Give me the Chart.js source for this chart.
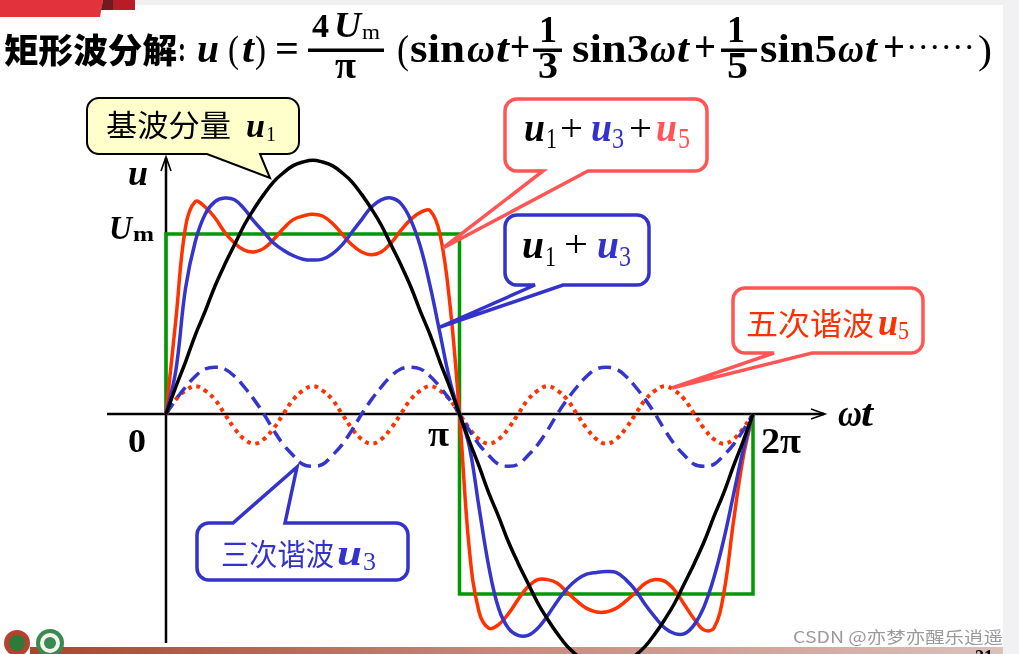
<!DOCTYPE html>
<html><head><meta charset="utf-8">
<script src="https://cdn.jsdelivr.net/npm/chart.js@4/dist/chart.umd.min.js"></script>
<style>
html,body{margin:0;padding:0;background:#fff;overflow:hidden}
#wrap{position:relative;width:1019px;height:654px;background:#fff}
#wrap canvas,#wrap svg{position:absolute;left:0;top:0}
</style></head><body>
<div id="wrap">
<svg id="back" width="1019" height="654">
  <rect x="0" y="0" width="1019" height="5" fill="#f0f0f0"/>
  <polygon points="0,0 103,0 100,17 0,17" fill="#e2323c"/>
  <polygon points="103,0 113,0 113,10 101,10" fill="#6e1c22"/>
  <rect x="113" y="0" width="22" height="10" fill="#b81c26"/>
  <rect x="1003" y="0" width="16" height="654" fill="#f1f1f3"/>
  <defs><linearGradient id="bar" x1="0" x2="1" y1="0" y2="0">
    <stop offset="0" stop-color="#a8462e"/><stop offset="0.5" stop-color="#c98a7c"/><stop offset="1" stop-color="#dcc0ba"/></linearGradient></defs>
  <rect x="30" y="647" width="973" height="7" fill="url(#bar)"/>
  <circle cx="17" cy="643" r="13" fill="#b8402e"/><circle cx="17" cy="643" r="8" fill="#2f7a3a"/>
  <circle cx="50" cy="643" r="14" fill="#3a8a50"/><circle cx="50" cy="643" r="10" fill="#f4f4ee"/><circle cx="50" cy="643" r="6" fill="#3a8a50"/>
</svg>
<canvas id="c" width="1019" height="654"></canvas>
<svg id="deco" width="1019" height="654"></svg>
</div>
<script>
// ---- data (angle of ωt in degrees, values in units of Um) ----
const angles = [0,6,12,18,24,30,36,42,48,54,60,66,72,78,84,90,96,102,108,114,120,126,132,138,144,150,156,162,168,174,180,
  186,192,198,204,210,216,222,228,234,240,246,252,258,264,270,276,282,288,294,300,306,312,318,324,330,336,342,348,354,360];
const u1 = [0,0.15,0.29,0.44,0.57,0.71,0.83,0.94,1.05,1.14,1.22,1.29,1.34,1.38,1.40,1.41,1.40,1.38,1.34,1.29,1.22,1.14,1.05,0.94,0.83,0.71,0.57,0.44,0.29,0.15,0,
  -0.15,-0.29,-0.44,-0.57,-0.71,-0.83,-0.94,-1.05,-1.14,-1.22,-1.29,-1.34,-1.38,-1.40,-1.41,-1.40,-1.38,-1.34,-1.29,-1.22,-1.14,-1.05,-0.94,-0.83,-0.71,-0.57,-0.44,-0.29,-0.15,0];
const u3 = [0,0.08,0.15,0.21,0.25,0.26,0.25,0.21,0.15,0.08,0,
  -0.09,-0.17,-0.23,-0.28,-0.29,-0.28,-0.23,-0.17,-0.09,0,
  0.08,0.15,0.21,0.25,0.26,0.25,0.21,0.15,0.08,0,
  -0.09,-0.17,-0.23,-0.28,-0.29,-0.28,-0.23,-0.17,-0.09,0,
  0.08,0.15,0.21,0.25,0.26,0.25,0.21,0.15,0.08,0,
  -0.09,-0.17,-0.23,-0.28,-0.29,-0.28,-0.23,-0.17,-0.09,0];
const u5 = [0,0.08,0.13,0.155,0.13,0.08,0,-0.08,-0.14,-0.165,-0.14,-0.08,
  0,0.08,0.13,0.155,0.13,0.08,0,-0.08,-0.14,-0.165,-0.14,-0.08,
  0,0.08,0.13,0.155,0.13,0.08,0,-0.08,-0.14,-0.165,-0.14,-0.08,
  0,0.08,0.13,0.155,0.13,0.08,0,-0.08,-0.14,-0.165,-0.14,-0.08,
  0,0.08,0.13,0.155,0.13,0.08,0,-0.08,-0.14,-0.165,-0.14,-0.08,0];
const sum13 = [0,0.24,0.70,0.96,1.11,1.18,1.20,1.19,1.14,1.07,1.01,0.95,0.91,0.88,0.86,0.855,0.86,0.89,0.94,1.01,1.08,1.15,1.19,1.20,1.17,1.08,0.93,0.71,0.45,0.19,0,
  -0.18,-0.52,-0.85,-1.08,-1.19,-1.23,-1.23,-1.19,-1.12,-1.04,-0.97,-0.92,-0.89,-0.88,-0.875,-0.88,-0.92,-0.98,-1.06,-1.13,-1.19,-1.22,-1.22,-1.17,-1.07,-0.91,-0.70,-0.45,-0.20,0];
const sum135 = [0,0.52,1.04,1.18,1.15,1.09,1.01,0.95,0.91,0.90,0.92,0.97,1.03,1.08,1.10,1.11,1.10,1.06,1.00,0.94,0.90,0.885,0.90,0.95,1.02,1.08,1.12,1.13,1.00,0.62,0,
  -0.75,-1.10,-1.19,-1.17,-1.11,-1.03,-0.96,-0.92,-0.92,-0.94,-0.99,-1.04,-1.08,-1.10,-1.10,-1.08,-1.04,-0.99,-0.94,-0.92,-0.93,-0.98,-1.06,-1.14,-1.20,-1.19,-1.00,-0.60,-0.24,0];
const squareX = [0,0,180,180,360,360];
const squareY = [0,1,1,-1,-1,0];

const pts = vals => angles.map((a,i)=>({x:a,y:vals[i]}));
const sq = squareX.map((a,i)=>({x:a,y:squareY[i]}));

const BLUE='#3535cc', RED='#ff3300', GREEN='#009900';
const axesPlugin = {
  id:'axes',
  beforeDatasetsDraw(chart){
    const {ctx, scales:{x,y}} = chart;
    const x0=x.getPixelForValue(0), x2=x.getPixelForValue(360), y0=y.getPixelForValue(0);
    ctx.save();
    ctx.strokeStyle='#000'; ctx.lineWidth=2.5;
    ctx.beginPath(); ctx.moveTo(x0-59,y0); ctx.lineTo(x2+71,y0); ctx.stroke();
    ctx.beginPath(); ctx.moveTo(x0,y0+229); ctx.lineTo(x0,y0-256); ctx.stroke();
    ctx.lineWidth=1.6;
    ctx.beginPath(); ctx.moveTo(x2+58,y0-5); ctx.lineTo(x2+72,y0); ctx.lineTo(x2+58,y0+5); ctx.stroke();
    ctx.beginPath(); ctx.moveTo(x0-5,y0-243); ctx.lineTo(x0,y0-257); ctx.lineTo(x0+5,y0-243); ctx.stroke();
    ctx.restore();
  }
};
const k = 587/360;
const xmin = -166/k, xmax = xmin + 1019/k;
const ymax = 414/180, ymin = ymax - 654/180;
new Chart(document.getElementById('c'), {
  type:'line',
  data:{datasets:[
    {label:'u1', data:pts(u1), borderColor:'#000', borderWidth:3.5, tension:0.4},
    {label:'u1+u3', data:pts(sum13), borderColor:BLUE, borderWidth:3.5, tension:0.4},
    {label:'u1+u3+u5', data:pts(sum135), borderColor:RED, borderWidth:3.5, tension:0.4},
    {label:'square', data:sq, borderColor:GREEN, borderWidth:3.5, tension:0},
    {label:'u3', data:pts(u3), borderColor:BLUE, borderWidth:3.5, borderDash:[13,7], tension:0.4},
    {label:'u5', data:pts(u5), borderColor:RED, borderWidth:4, borderDash:[4,4.5], tension:0.4}
  ]},
  options:{
    responsive:false, animation:false, devicePixelRatio:1,
    layout:{padding:0},
    plugins:{legend:{display:false}, tooltip:{enabled:false}, title:{display:false}},
    elements:{point:{radius:0}},
    scales:{
      x:{type:'linear', display:false, min:xmin, max:xmax},
      y:{type:'linear', display:false, min:ymin, max:ymax}
    }
  },
  plugins:[axesPlugin]
});

// ---- decorations: bubbles & text ----
function bubble(x,y,w,h,r,b1,b2,tx,ty,top){
  if(top){
    return `M${x+r},${y} H${b1} L${tx},${ty} L${b2},${y} H${x+w-r} A${r},${r} 0 0 1 ${x+w},${y+r} V${y+h-r} A${r},${r} 0 0 1 ${x+w-r},${y+h} H${x+r} A${r},${r} 0 0 1 ${x},${y+h-r} V${y+r} A${r},${r} 0 0 1 ${x+r},${y} Z`;
  }
  return `M${x+r},${y} H${x+w-r} A${r},${r} 0 0 1 ${x+w},${y+r} V${y+h-r} A${r},${r} 0 0 1 ${x+w-r},${y+h} H${b2} L${tx},${ty} L${b1},${y+h} H${x+r} A${r},${r} 0 0 1 ${x},${y+h-r} V${y+r} A${r},${r} 0 0 1 ${x+r},${y} Z`;
}
const SERIF="'Liberation Serif','Times New Roman',serif";
const CJK="'Noto Sans CJK SC','Noto Sans CJK JP',sans-serif";
function T(txt,x,y,o){
  o=o||{};
  const fam=o.cjk?CJK:SERIF;
  const len=o.w?` textLength="${o.w}" lengthAdjust="spacingAndGlyphs"`:'';
  return `<text x="${x}" y="${y}" font-family="${fam}" font-size="${o.s||36}" font-weight="${o.b===false?'normal':(o.wt||'bold')}" font-style="${o.i?'italic':'normal'}" fill="${o.c||'#000'}"${len}>${txt}</text>`;
}
const RB='#ff5555', BB='#3333cc';
let s='';
// bubbles
s+=`<path d="${bubble(87,98,212,56,12,207,260,270,178)}" fill="#ffffcc" stroke="#000" stroke-width="2"/>`;
s+=`<path d="${bubble(505,99,202,72,12,543,588,443,248)}" fill="#fff" stroke="${RB}" stroke-width="3.5"/>`;
s+=`<path d="${bubble(505,215,144,70,12,535,563,440,327)}" fill="#fff" stroke="${BB}" stroke-width="3.5"/>`;
s+=`<path d="${bubble(733,288,190,65,12,774,812,672,388)}" fill="#fff" stroke="${RB}" stroke-width="3.5"/>`;
s+=`<path d="${bubble(197,523,211,57,12,233,285,297,467,true)}" fill="#fff" stroke="${BB}" stroke-width="3.5"/>`;
// bubble texts
s+=T('基波分量',106,136,{cjk:1,s:30,b:false,w:125});
s+=T('u',246,137,{i:1,s:34,w:19});
s+=T('1',266,141,{b:false,s:22,w:10});

s+=T('u',524,141,{i:1,s:40,w:21});
s+=T('1',546,148,{b:false,s:29,w:11});
s+=T('+',560,141,{b:false,s:38,w:23});
s+=T('u',591,141,{i:1,s:40,w:21,c:BB});
s+=T('3',612,148,{b:false,s:29,w:12,c:BB});
s+=T('+',629,141,{b:false,s:38,w:23});
s+=T('u',656,141,{i:1,s:40,w:21,c:RB});
s+=T('5',678,148,{b:false,s:29,w:12,c:RB});

s+=T('u',522,258,{i:1,s:40,w:22});
s+=T('1',545,266,{b:false,s:29,w:11});
s+=T('+',564,257,{b:false,s:38,w:24});
s+=T('u',597,258,{i:1,s:40,w:22,c:BB});
s+=T('3',619,266,{b:false,s:29,w:12,c:BB});

s+=T('五次谐波',746,335,{cjk:1,s:31,b:false,w:128,c:'#ff3000'});
s+=T('u',878,335,{i:1,s:38,w:20,c:'#ff3000'});
s+=T('5',898,339,{b:false,s:26,w:11,c:'#ff3000'});

s+=T('三次谐波',221,565,{cjk:1,s:30,b:false,w:113,c:BB});
s+=T('u',337,565,{i:1,s:36,w:25,c:BB});
s+=T('3',363,570,{b:false,s:25,w:13,c:BB});

// axis labels
s+=T('u',128,185,{i:1,s:36,w:20});
s+=T('U',109,239,{i:1,s:34,w:23});
s+=T('m',133,241,{s:22,w:21});
s+=T('0',128,452,{s:34,w:18});
s+=T('π',428,446,{s:36,w:21});
s+=T('2π',761,453,{s:36,w:40});
s+=T('ω',838,426,{i:1,s:38,w:24});
s+=T('t',861,426,{i:1,s:38,w:12});

// title formula
s+=T('矩形波分解',4,63,{cjk:1,s:34,wt:900,w:173});
s+=T(':',178,61,{s:36,w:8});
s+=T('u',197,62,{i:1,s:40,w:22});
s+=T('(',228,62,{b:false,s:38,w:11});
s+=T('t',242,62,{i:1,s:40,w:12});
s+=T(')',255,62,{b:false,s:38,w:11});
s+=T('=',275,62,{s:40,w:24});
s+=T('4',312,37,{s:34,w:17});
s+=T('U',334,37,{i:1,s:36,w:27});
s+=T('m',362,39,{b:false,s:22,w:18});
s+=`<rect x="308" y="48.5" width="76" height="3.5" fill="#000"/>`;
s+=T('π',335,78,{s:38,w:21});
s+=T('(',397,63,{b:false,s:40,w:12});
s+=T('sin',410,62,{s:40,w:55});
s+=T('ω',467,62,{i:1,s:40,w:28});
s+=T('t',496,62,{i:1,s:40,w:13});
s+=T('+',510,61,{s:44,w:20});
s+=T('1',539,42,{s:38,w:18});
s+=`<rect x="533" y="48.5" width="29" height="3.5" fill="#000"/>`;
s+=T('3',538,78,{s:38,w:20});
s+=T('sin3',572,62,{s:40,w:77});
s+=T('ω',650,62,{i:1,s:40,w:26});
s+=T('t',677,62,{i:1,s:40,w:12});
s+=T('+',694,61,{s:44,w:22});
s+=T('1',727,42,{s:38,w:18});
s+=`<rect x="721" y="48.5" width="36" height="3.5" fill="#000"/>`;
s+=T('5',727,78,{s:38,w:21});
s+=T('sin5',760,62,{s:40,w:77});
s+=T('ω',838,62,{i:1,s:40,w:26});
s+=T('t',865,62,{i:1,s:40,w:12});
s+=T('+',883,61,{s:44,w:22});
s+=T('······',906,58,{b:false,s:34,w:69});
s+=T(')',978,63,{b:false,s:40,w:14});

// watermark / page number
s+=`<text x="793" y="643" font-family="'Noto Sans CJK SC',sans-serif" font-size="16" fill="#9a9a9a" textLength="210" lengthAdjust="spacingAndGlyphs">CSDN @亦梦亦醒乐逍遥</text>`;
s+=T('21',975,664,{s:22,w:18});
document.getElementById('deco').innerHTML=s;
</script>
</body></html>
